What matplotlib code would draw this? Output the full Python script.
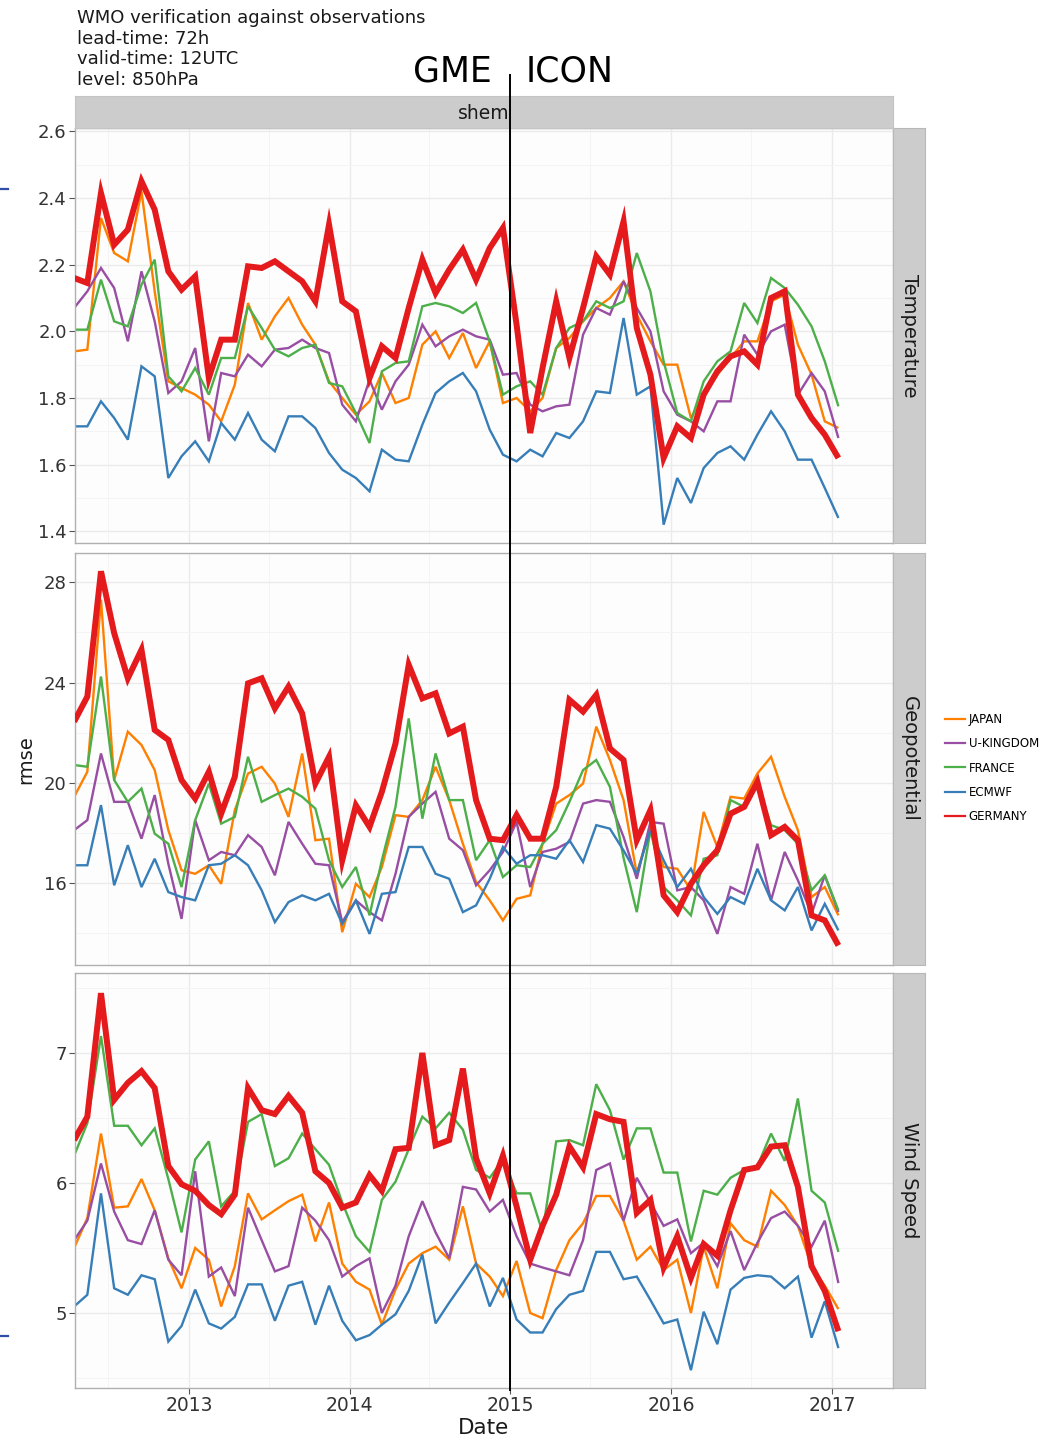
import numpy as np
import pandas as pd
import matplotlib
matplotlib.use("Agg")
import matplotlib.pyplot as plt
import matplotlib.dates as mdates
from matplotlib.lines import Line2D

plt.rcParams["font.family"] = ["DejaVu Sans"]

# ---------------------------------------------------------------- data
dates = pd.date_range("2012-04-01", periods=58, freq="MS") + pd.Timedelta(days=14)

centres = ["JAPAN", "U-KINGDOM", "FRANCE", "ECMWF", "GERMANY"]
colours = ["#FF7F00", "#984EA3", "#4DAF4A", "#377EB8", "#E41A1C"]

temp_japan = [1.94, 1.945, 2.34, 2.235, 2.21, 2.42, 2.12, 1.85, 1.83, 1.81,
              1.78, 1.73, 1.84, 2.085, 1.975, 2.045, 2.10, 2.02, 1.96, 1.85,
              1.80, 1.75, 1.79, 1.875, 1.785, 1.80, 1.96, 2.0, 1.92, 1.995,
              1.89, 1.97, 1.785, 1.80, 1.76, 1.80, 1.95, 1.98, 2.03, 2.07,
              2.10, 2.15, 2.05, 1.97, 1.90, 1.90, 1.74, 1.81, 1.87, 1.92,
              1.97, 1.97, 2.09, 2.11, 1.96, 1.87, 1.73, 1.71]
temp_ukingdom = [2.07, 2.12, 2.19, 2.13, 1.97, 2.18, 2.03, 1.815, 1.85, 1.95,
                 1.67, 1.875, 1.865, 1.93, 1.895, 1.945, 1.95, 1.975, 1.95, 1.935,
                 1.78, 1.73, 1.855, 1.765, 1.85, 1.90, 2.02, 1.955, 1.985, 2.005,
                 1.985, 1.975, 1.87, 1.875, 1.78, 1.76, 1.775, 1.78, 1.99, 2.07,
                 2.05, 2.15, 2.07, 2.0, 1.82, 1.75, 1.73, 1.70, 1.79, 1.79,
                 1.99, 1.93, 2.0, 2.02, 1.81, 1.875, 1.82, 1.68]
temp_france = [2.005, 2.005, 2.155, 2.03, 2.015, 2.14, 2.215, 1.865, 1.82, 1.89,
               1.81, 1.92, 1.92, 2.075, 2.01, 1.945, 1.925, 1.95, 1.96, 1.845,
               1.835, 1.755, 1.665, 1.88, 1.905, 1.91, 2.075, 2.085, 2.075, 2.055,
               2.085, 1.97, 1.81, 1.835, 1.85, 1.81, 1.95, 2.01, 2.03, 2.09,
               2.07, 2.09, 2.235, 2.12, 1.91, 1.755, 1.73, 1.85, 1.91, 1.94,
               2.085, 2.025, 2.16, 2.13, 2.08, 2.015, 1.91, 1.775]
temp_ecmwf = [1.715, 1.715, 1.79, 1.74, 1.675, 1.895, 1.865, 1.56, 1.625, 1.67,
              1.61, 1.725, 1.675, 1.755, 1.675, 1.64, 1.745, 1.745, 1.71, 1.635,
              1.585, 1.56, 1.52, 1.645, 1.615, 1.61, 1.72, 1.815, 1.85, 1.875,
              1.82, 1.705, 1.63, 1.61, 1.645, 1.625, 1.695, 1.68, 1.73, 1.82,
              1.815, 2.04, 1.81, 1.835, 1.42, 1.56, 1.485, 1.59, 1.635, 1.655,
              1.615, 1.69, 1.76, 1.70, 1.615, 1.615, 1.53, 1.44]
temp_germany = [2.16, 2.145, 2.415, 2.26, 2.305, 2.45, 2.365, 2.18, 2.125, 2.165,
                1.86, 1.975, 1.975, 2.195, 2.19, 2.21, 2.18, 2.15, 2.09, 2.32,
                2.09, 2.06, 1.86, 1.955, 1.92, 2.07, 2.215, 2.115, 2.185, 2.245,
                2.155, 2.25, 2.31, 2.02, 1.695, 1.89, 2.09, 1.92, 2.07, 2.225,
                2.17, 2.33, 2.01, 1.87, 1.62, 1.715, 1.68, 1.81, 1.88, 1.925,
                1.94, 1.90, 2.10, 2.12, 1.81, 1.74, 1.69, 1.62]

geo_japan = [19.44, 20.44, 27.31, 20.11, 22.04, 21.51, 20.51, 18.11, 16.51, 16.37,
             16.71, 15.97, 18.91, 20.37, 20.64, 19.97, 18.64, 21.17, 17.71, 17.77,
             14.04, 15.97, 15.44, 16.64, 18.71, 18.64, 19.31, 20.64, 19.31, 17.57,
             16.04, 15.31, 14.51, 15.37, 15.51, 17.57, 19.17, 19.51, 19.97, 22.24,
             20.91, 19.31, 16.37, 18.24, 16.64, 16.57, 15.71, 18.84, 17.44, 19.44,
             19.37, 20.37, 21.04, 19.44, 18.11, 15.44, 15.84, 14.71]
geo_ukingdom = [18.11, 18.51, 21.17, 19.24, 19.24, 17.77, 19.51, 16.77, 14.57, 18.51,
                16.91, 17.24, 17.11, 17.91, 17.44, 16.31, 18.44, 17.57, 16.77, 16.71,
                14.44, 15.31, 14.84, 14.51, 16.37, 18.64, 19.17, 19.64, 17.77, 17.31,
                15.91, 16.51, 17.24, 18.44, 15.84, 17.24, 17.37, 17.64, 19.17, 19.31,
                19.24, 17.84, 16.17, 18.44, 18.37, 15.71, 15.84, 15.31, 13.97, 15.84,
                15.57, 17.57, 15.31, 17.24, 16.11, 14.77, 16.31, 14.84]
geo_france = [20.71, 20.64, 24.24, 20.11, 19.24, 19.77, 17.97, 17.57, 15.84, 18.51,
              19.97, 18.37, 18.64, 21.04, 19.24, 19.51, 19.77, 19.44, 18.97, 16.91,
              15.84, 16.64, 14.71, 16.91, 19.04, 22.57, 18.57, 21.17, 19.31, 19.31,
              16.91, 17.71, 16.24, 16.71, 16.64, 17.57, 18.11, 19.24, 20.51, 20.91,
              19.84, 17.0, 14.84, 18.11, 15.84, 15.31, 14.71, 16.97, 17.11, 19.31,
              19.04, 19.97, 18.31, 18.11, 17.57, 15.71, 16.31, 14.91]
geo_ecmwf = [16.71, 16.71, 19.11, 15.91, 17.51, 15.84, 16.97, 15.64, 15.44, 15.31,
             16.71, 16.77, 17.11, 16.71, 15.71, 14.44, 15.24, 15.51, 15.31, 15.57,
             14.37, 15.3, 13.97, 15.57, 15.64, 17.44, 17.44, 16.37, 16.17, 14.84,
             15.11, 16.17, 17.44, 16.77, 17.11, 17.11, 16.97, 17.71, 16.84, 18.31,
             18.17, 17.3, 16.37, 18.11, 16.91, 15.84, 16.57, 15.44, 14.77, 15.44,
             15.17, 16.57, 15.31, 14.91, 15.84, 14.11, 15.17, 14.11]
geo_germany = [22.44, 23.44, 28.44, 25.97, 24.17, 25.31, 22.11, 21.71, 20.11, 19.37,
               20.44, 18.77, 20.24, 23.97, 24.17, 22.97, 23.84, 22.77, 19.97, 21.04,
               16.91, 19.1, 18.24, 19.64, 21.57, 24.71, 23.37, 23.57, 21.97, 22.24,
               19.31, 17.77, 17.71, 18.71, 17.77, 17.77, 19.84, 23.31, 22.84, 23.51,
               21.37, 20.91, 17.71, 18.91, 15.51, 14.84, 15.97, 16.71, 17.31, 18.77,
               19.04, 20.04, 17.91, 18.24, 17.71, 14.71, 14.51, 13.51]

wind_japan = [5.50, 5.73, 6.38, 5.81, 5.82, 6.03, 5.79, 5.42, 5.19, 5.50,
              5.41, 5.05, 5.36, 5.92, 5.72, 5.79, 5.86, 5.91, 5.55, 5.85,
              5.38, 5.24, 5.18, 4.91, 5.18, 5.38, 5.46, 5.51, 5.41, 5.82,
              5.38, 5.28, 5.13, 5.40, 5.00, 4.96, 5.33, 5.56, 5.69, 5.90,
              5.90, 5.71, 5.41, 5.51, 5.33, 5.41, 5.00, 5.51, 5.19, 5.69,
              5.56, 5.51, 5.94, 5.83, 5.67, 5.36, 5.21, 5.03]
wind_ukingdom = [5.56, 5.71, 6.15, 5.78, 5.56, 5.53, 5.79, 5.41, 5.29, 6.09,
                 5.28, 5.35, 5.13, 5.81, 5.56, 5.32, 5.36, 5.81, 5.71, 5.56,
                 5.28, 5.36, 5.42, 5.00, 5.21, 5.59, 5.86, 5.62, 5.42, 5.97,
                 5.95, 5.78, 5.87, 5.59, 5.38, 5.35, 5.32, 5.29, 5.56, 6.10,
                 6.15, 5.71, 6.04, 5.85, 5.67, 5.72, 5.46, 5.54, 5.36, 5.63,
                 5.33, 5.54, 5.73, 5.78, 5.67, 5.51, 5.71, 5.23]
wind_france = [6.21, 6.46, 7.13, 6.44, 6.44, 6.29, 6.42, 6.03, 5.62, 6.18,
               6.32, 5.82, 5.94, 6.47, 6.53, 6.13, 6.19, 6.38, 6.26, 6.14,
               5.85, 5.59, 5.47, 5.87, 6.01, 6.26, 6.51, 6.42, 6.54, 6.41,
               6.10, 6.04, 6.18, 5.92, 5.92, 5.62, 6.32, 6.33, 6.29, 6.76,
               6.56, 6.18, 6.42, 6.42, 6.08, 6.08, 5.55, 5.94, 5.91, 6.04,
               6.10, 6.13, 6.38, 6.17, 6.65, 5.94, 5.85, 5.47]
wind_ecmwf = [5.05, 5.14, 5.92, 5.19, 5.14, 5.29, 5.26, 4.78, 4.90, 5.18,
              4.92, 4.88, 4.97, 5.22, 5.22, 4.94, 5.21, 5.24, 4.91, 5.21,
              4.94, 4.79, 4.83, 4.91, 4.99, 5.17, 5.45, 4.92, 5.08, 5.23,
              5.38, 5.05, 5.27, 4.95, 4.85, 4.85, 5.03, 5.14, 5.17, 5.47,
              5.47, 5.26, 5.28, 5.10, 4.92, 4.95, 4.56, 5.01, 4.76, 5.18,
              5.27, 5.29, 5.28, 5.19, 5.28, 4.81, 5.09, 4.73]
wind_germany = [6.33, 6.51, 7.46, 6.64, 6.77, 6.86, 6.73, 6.13, 5.99, 5.94,
                5.83, 5.76, 5.91, 6.73, 6.56, 6.53, 6.67, 6.54, 6.09, 6.0,
                5.81, 5.85, 6.06, 5.94, 6.26, 6.27, 7.0, 6.29, 6.33, 6.88,
                6.19, 5.92, 6.21, 5.82, 5.41, 5.67, 5.91, 6.28, 6.12, 6.53,
                6.49, 6.47, 5.77, 5.87, 5.35, 5.59, 5.27, 5.53, 5.44, 5.79,
                6.10, 6.12, 6.28, 6.29, 5.97, 5.36, 5.17, 4.86]

variables = ["Temperature", "Geopotential", "Wind Speed"]
series = {
    "Temperature": [temp_japan, temp_ukingdom, temp_france, temp_ecmwf, temp_germany],
    "Geopotential": [geo_japan, geo_ukingdom, geo_france, geo_ecmwf, geo_germany],
    "Wind Speed": [wind_japan, wind_ukingdom, wind_france, wind_ecmwf, wind_germany],
}
y_major = {
    "Temperature": [1.4, 1.6, 1.8, 2.0, 2.2, 2.4, 2.6],
    "Geopotential": [16, 20, 24, 28],
    "Wind Speed": [5, 6, 7],
}
y_labels = {
    "Temperature": ["1.4", "1.6", "1.8", "2.0", "2.2", "2.4", "2.6"],
    "Geopotential": ["16", "20", "24", "28"],
    "Wind Speed": ["5", "6", "7"],
}
y_limits = {
    "Temperature": (1.365, 2.61),
    "Geopotential": (12.73, 29.17),
    "Wind Speed": (4.423, 7.615),
}
year_ticks = ["2013", "2014", "2015", "2016", "2017"]
header = ["WMO verification against observations", "lead-time: 72h",
          "valid-time: 12UTC", "level: 850hPa"]
region = "shem"
model_change = "2015-01-01"

# ---------------------------------------------------------------- layout
W, H = 1061, 1439
fig = plt.figure(figsize=(W / 100, H / 100), dpi=100)
fig.patch.set_facecolor("white")


def fx(px):
    return px / W


def fy(py):
    return 1 - py / H


panel_rows = [(128, 543), (553, 965), (973, 1388)]
p_left, p_right, s_right = 75, 893, 925
x_lo = mdates.date2num(pd.Timestamp("2012-04-17"))
x_hi = mdates.date2num(pd.Timestamp("2017-05-19"))

label_col = "#333333"
axes = []
for i, (var, (top, bot)) in enumerate(zip(variables, panel_rows)):
    ax = fig.add_axes([fx(p_left), fy(bot), fx(p_right) - fx(p_left), (bot - top) / H])
    ax.set_facecolor("#FDFDFD")
    for name, col, vals in zip(centres, colours, series[var]):
        lw = 4.3 if name == "GERMANY" else 1.7
        ax.plot(dates, vals, color=col, lw=lw, solid_joinstyle="miter",
                solid_capstyle="butt", zorder=3 if name == "GERMANY" else 2)
    yt = y_major[var]
    ax.set_yticks(yt)
    ax.set_yticklabels(y_labels[var])
    step = yt[1] - yt[0]
    ax.set_yticks([v + step / 2 for v in [yt[0] - step] + yt], minor=True)
    ax.xaxis.set_major_locator(mdates.YearLocator())
    ax.xaxis.set_minor_locator(mdates.MonthLocator(bymonth=[7]))
    if i == 2:
        ax.set_xticks([mdates.date2num(pd.Timestamp(y + "-01-01")) for y in year_ticks])
        ax.set_xticklabels(year_ticks)
    # limits last, so tick placement cannot widen them
    ax.set_xlim(x_lo, x_hi)
    ax.set_ylim(*y_limits[var])
    ax.grid(True, which="major", color="#EBEBEB", lw=1.0, zorder=0)
    ax.grid(True, which="minor", color="#F4F4F4", lw=0.7, zorder=0)
    ax.set_axisbelow(True)
    ax.tick_params(axis="y", which="major", labelsize=13, labelcolor=label_col,
                   color="#555555", length=4, width=0.8, pad=2)
    ax.tick_params(which="minor", length=0)
    if i < 2:
        ax.tick_params(axis="x", which="major", length=0, labelbottom=False)
    else:
        ax.tick_params(axis="x", which="major", labelsize=13.5, labelcolor=label_col,
                       color="#555555", length=4, width=0.8, pad=2)
    for sp in ax.spines.values():
        sp.set_color("#B0B0B0")
        sp.set_linewidth(1.0)
    axes.append(ax)

    # facet strip on the right
    st = fig.add_axes([fx(p_right), fy(bot), fx(s_right) - fx(p_right), (bot - top) / H])
    st.set_facecolor("#CCCCCC")
    st.set_xticks([])
    st.set_yticks([])
    for sp in st.spines.values():
        sp.set_color("#B8B8B8")
    st.text(0.5, 0.5, var, rotation=270, ha="center", va="center",
            fontsize=14, color="#1A1A1A", transform=st.transAxes)

# top strip
ts = fig.add_axes([fx(p_left), fy(128), fx(p_right) - fx(p_left), 32 / H])
ts.set_facecolor("#CCCCCC")
ts.set_xticks([])
ts.set_yticks([])
for sp in ts.spines.values():
    sp.set_color("#C4C4C4")
ts.text(0.5, 0.45, region, ha="center", va="center", fontsize=13.5,
        color="#1A1A1A", transform=ts.transAxes)

# axis titles
fig.text(fx(26), fy(760), "rmse", rotation=90, ha="center", va="center",
         fontsize=14, color="#1A1A1A")
fig.text(fx(484), fy(1428), "Date", ha="center", va="center",
         fontsize=15.5, color="#1A1A1A")

# header lines
for j, line in enumerate(header):
    fig.text(fx(77), fy(18 + 20.7 * j), line, ha="left", va="center",
             fontsize=13, color="#1A1A1A")

# legend
handles = [Line2D([], [], color=c, lw=1.6) for c in colours]
fig.legend(handles, centres, loc="center left",
           bbox_to_anchor=(fx(945), fy(768)), frameon=False, fontsize=8.5,
           handlelength=1.7, handletextpad=0.3, labelspacing=0.95,
           borderaxespad=0, borderpad=0)

# model change marker (GME -> ICON)
fig.canvas.draw()
xc = mdates.date2num(pd.Timestamp(model_change))
x_fig = fig.transFigure.inverted().transform(
    axes[0].transData.transform((xc, 2.0)))[0]
fig.add_artist(Line2D([x_fig, x_fig], [fy(75), fy(1390)], color="black",
                      lw=1.4, transform=fig.transFigure, zorder=10))
fig.text(x_fig - fx(19), fy(72), "GME", ha="right", va="center",
         fontsize=25, color="black")
fig.text(x_fig + fx(15), fy(72), "ICON", ha="left", va="center",
         fontsize=25, color="black")

# small blue edge marks
for yy in (189, 1336):
    fig.add_artist(Line2D([0, fx(8)], [fy(yy), fy(yy)], color="#3050A8",
                          lw=1.6, transform=fig.transFigure))

fig.savefig("out.png", dpi=100)
